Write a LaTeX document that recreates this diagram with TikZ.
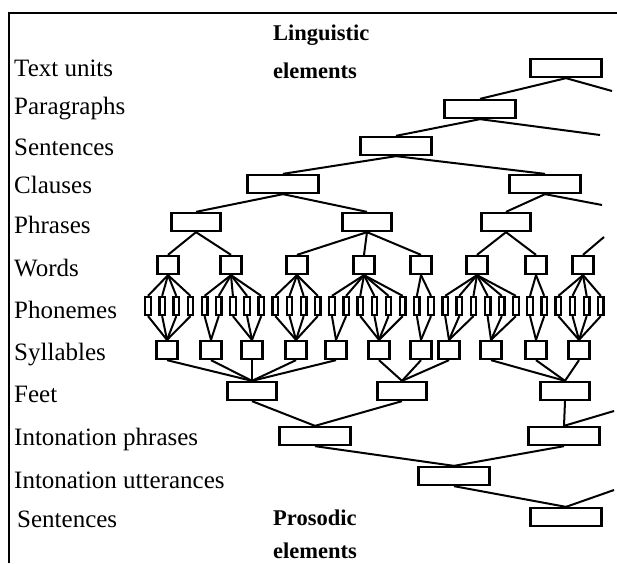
\documentclass[tikz,border=0pt]{standalone}
\usepackage{fontspec}
\setmainfont{Liberation Serif}
\usepackage{tikz}
\usetikzlibrary{positioning}

\begin{document}
\begin{tikzpicture}[
  x=1pt, y=-1pt,
  every node/.style={font=\fontsize{25}{29}\selectfont},
  lvl/.style={anchor=base west, inner sep=0pt},
  head/.style={anchor=base west, inner sep=0pt, font=\fontsize{22.5}{27}\selectfont\bfseries},
  bigbox/.style={draw, line width=2.3pt, minimum width=71pt, minimum height=18pt, inner sep=0pt},
  midbox/.style={bigbox, minimum width=49pt},
  smallbox/.style={bigbox, minimum width=21pt},
  phon/.style={bigbox, minimum width=5.5pt},
  link/.style={line width=2pt},
]
\useasboundingbox (0,0) rectangle (617,563);

% ---- Frame ----
\draw[line width=1.4pt] (9,563) -- (9,13) -- (617,13);

% ---- Level names ----
\foreach \name/\x/\y/\txt in {tu/14/76/Text units, pa/14/114/Paragraphs, se/14/155/Sentences,
  cl/14/193/Clauses, ph/14/233/Phrases, wd/14/276/Words, pn/14/318/Phonemes,
  sy/14/360/Syllables, ft/14/402/Feet, ip/14/445/Intonation phrases,
  iu/14/488/Intonation utterances, ps/17/527/Sentences}
  \node[lvl] (l\name) at (\x,\y) {\txt};

\node[head] (ling) at (273,40) {Linguistic};
\node[head] (lingel) at (273,78) {elements};
\node[head] (pros) at (273,525) {Prosodic};
\node[head] (prosel) at (273,558) {elements};

% ---- Linguistic side ----
\node[bigbox] (tu) at (566,68) {};
\node[bigbox] (pa) at (480,109) {};
\node[bigbox] (se) at (396,146) {};
\node[bigbox] (cla) at (283,184) {};
\node[bigbox] (clb) at (545,184) {};
\foreach \n/\x in {1/196, 2/367, 3/506}
  \node[midbox] (ph\n) at (\x,222) {};
\foreach \n/\x in {1/168, 2/231, 3/297, 4/364, 5/421, 6/477, 7/536, 8/583}
  \node[smallbox] (w\n) at (\x,265) {};

% ---- Prosodic side ----
\foreach \n/\x in {1/167, 2/211, 3/252, 4/296, 5/336, 6/379, 7/421, 8/449, 9/491, 10/536, 11/579}
  \node[smallbox] (s\n) at (\x,350) {};
\foreach \n/\x in {1/252, 2/402, 3/565}
  \node[midbox] (ft\n) at (\x,391) {};
\node[bigbox] (ip1) at (315,436) {};
\node[bigbox] (ip2) at (564,436) {};
\node[bigbox] (iu) at (454,476) {};
\node[bigbox] (ps) at (566,517) {};

% ---- Branches running off the right edge ----
\coordinate (tuR) at (612,91);
\coordinate (paR) at (600,135);
\coordinate (clbR) at (602,205);
\coordinate (w8R) at (604,237);
\coordinate (ip2R) at (614,411);
\coordinate (psR) at (614,490);

% ---- Connectors ----
\foreach \a/\b in {tu/pa, pa/se, se/cla, se/clb, cla/ph1, cla/ph2, clb/ph3,
  ph1/w1, ph1/w2, ph2/w3, ph2/w4, ph2/w5, ph3/w6, ph3/w7,
  s1/ft1, s2/ft1, s3/ft1, s4/ft1, s5/ft1, s6/ft2, s7/ft2, s8/ft2,
  s9/ft3, s10/ft3, s11/ft3, ft1/ip1, ft2/ip1, ft3/ip2, ip1/iu, ip2/iu, iu/ps}
  \draw[link] (\a.south) -- (\b.north);
\draw[link] (tu.south) -- (tuR);
\draw[link] (pa.south) -- (paR);
\draw[link] (clb.south) -- (clbR);
\draw[link] (w8.north) -- (w8R);
\draw[link] (ip2.north) -- (ip2R);
\draw[link] (ps.north) -- (psR);

% ---- Phonemes: word / syllable of each ----
\foreach \w/\s [count=\n] in {1/1,1/1,1/1,1/1, 2/2,2/2,2/3,2/3,2/3, 3/4,3/4,3/4,3/4,
  4/5,4/5,4/6,4/6,4/6,4/6, 5/7,5/7, 6/8,6/8,6/8,6/9,6/9,6/9, 7/10,7/10,
  8/11,8/11,8/11,8/11} {
  \node[phon] (p\n) at ({148+14.15*(\n-1)},306) {};
  \draw[link] (w\w.south) -- (p\n.north);
  \draw[link] (p\n.south) -- (s\s.north);
}

\end{tikzpicture}
\end{document}
